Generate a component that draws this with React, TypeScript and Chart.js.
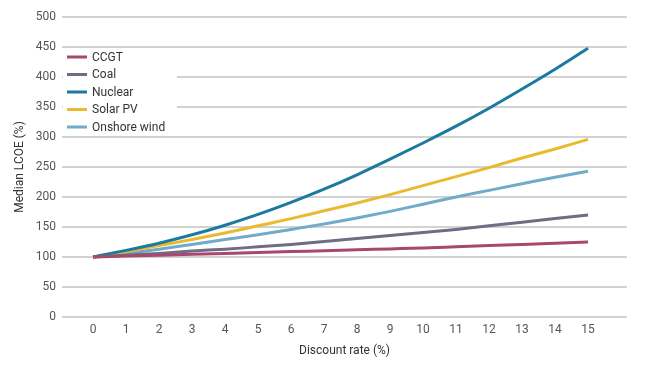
import React, { useEffect, useRef } from "react";
import { Chart, registerables } from "chart.js";

Chart.register(...registerables);

const discountRates = [0, 1, 2, 3, 4, 5, 6, 7, 8, 9, 10, 11, 12, 13, 14, 15];
const ccgt = [100, 101.5, 103, 104.5, 106, 107.5, 109, 110.5, 112, 113.5, 115, 117, 119, 121, 123, 125];
const coal = [100, 103, 106, 110, 113, 117, 121, 126, 131, 136, 141, 146, 152, 158, 164, 170];
const nuclear = [100, 111, 123, 137, 153, 171, 191, 213, 237, 263, 290, 318, 348, 380, 413, 448];
const solarPV = [100, 109, 119, 129, 140, 152, 164, 177, 190, 204, 219, 234, 249, 265, 280, 296];
const onshoreWind = [100, 106, 113, 121, 129, 137, 146, 155, 165, 176, 188, 200, 211, 222, 233, 243];

const seriesNames = ["CCGT", "Coal", "Nuclear", "Solar PV", "Onshore wind"];
const seriesColors = ["#a8476f", "#6f6c83", "#1c7a9e", "#ebb92f", "#70abc9"];
const seriesValues = [ccgt, coal, nuclear, solarPV, onshoreWind];

const yTicks = [0, 50, 100, 150, 200, 250, 300, 350, 400, 450, 500];

const FONT = "Roboto, 'Noto Sans', sans-serif";

const legendPlugin = {
  id: "customLegend",
  afterDraw(chart: any) {
    const ctx = chart.ctx;
    ctx.save();
    ctx.fillStyle = "#ffffff";
    ctx.fillRect(63, 50, 114, 84);
    const ds = chart.data.datasets;
    ctx.font = `12px ${FONT}`;
    ctx.textBaseline = "middle";
    ctx.textAlign = "left";
    ds.forEach((d: any, i: number) => {
      const y = 57 + i * 17.5;
      ctx.strokeStyle = d.borderColor;
      ctx.lineWidth = 3;
      ctx.beginPath();
      ctx.moveTo(67, y);
      ctx.lineTo(87, y);
      ctx.stroke();
      ctx.fillStyle = "#333333";
      ctx.fillText(d.label, 92, y + 0.5);
    });
    ctx.restore();
  },
};

export default function App() {
  const ref = useRef<HTMLCanvasElement | null>(null);
  useEffect(() => {
    if (!ref.current) return;
    const chart = new Chart(ref.current, {
      type: "line",
      data: {
        datasets: seriesNames.map((name, i) => ({
          label: name,
          data: discountRates.map((x, j) => ({ x, y: seriesValues[i][j] })),
          borderColor: seriesColors[i],
          backgroundColor: seriesColors[i],
          borderWidth: 3,
          pointRadius: 0,
          cubicInterpolationMode: "monotone" as const,
          fill: false,
        })),
      },
      options: {
        responsive: false,
        animation: false,
        layout: { padding: { left: 9, right: 26, top: 17, bottom: 0 } },
        plugins: { legend: { display: false }, tooltip: { enabled: false } },
        scales: {
          x: {
            type: "linear",
            min: -0.94,
            max: 16.18,
            afterBuildTicks: (scale: any) => {
              scale.ticks = discountRates.map((v) => ({ value: v }));
            },
            afterFit: (scale: any) => {
              scale.height = 49;
            },
            grid: { display: false, drawTicks: false },
            border: { display: false },
            ticks: {
              color: "#555555",
              font: { family: FONT, size: 12 },
              padding: 6,
              maxRotation: 0,
              autoSkip: false,
            },
            title: {
              display: true,
              text: "Discount rate (%)",
              color: "#333333",
              font: { family: FONT, size: 12 },
              padding: { top: 0, bottom: 8 },
            },
          },
          y: {
            min: 0,
            max: 500,
            afterBuildTicks: (scale: any) => {
              scale.ticks = yTicks.map((v) => ({ value: v }));
            },
            afterFit: (scale: any) => {
              scale.width = 53;
            },
            grid: { color: "#d2d2d2", lineWidth: 2, drawTicks: false },
            border: { display: false },
            ticks: {
              color: "#555555",
              font: { family: FONT, size: 12 },
              padding: 6,
            },
            title: {
              display: true,
              text: "Median LCOE (%)",
              color: "#333333",
              font: { family: FONT, size: 12 },
              padding: { top: 4, bottom: 0 },
            },
          },
        },
      },
      plugins: [legendPlugin],
    });
    return () => chart.destroy();
  }, []);
  return (
    <div style={{ position: "fixed", left: 0, top: 0, width: 653, height: 366, background: "#fff" }}>
      <canvas ref={ref} width={653} height={366} style={{ width: 653, height: 366, display: "block" }} />
    </div>
  );
}
